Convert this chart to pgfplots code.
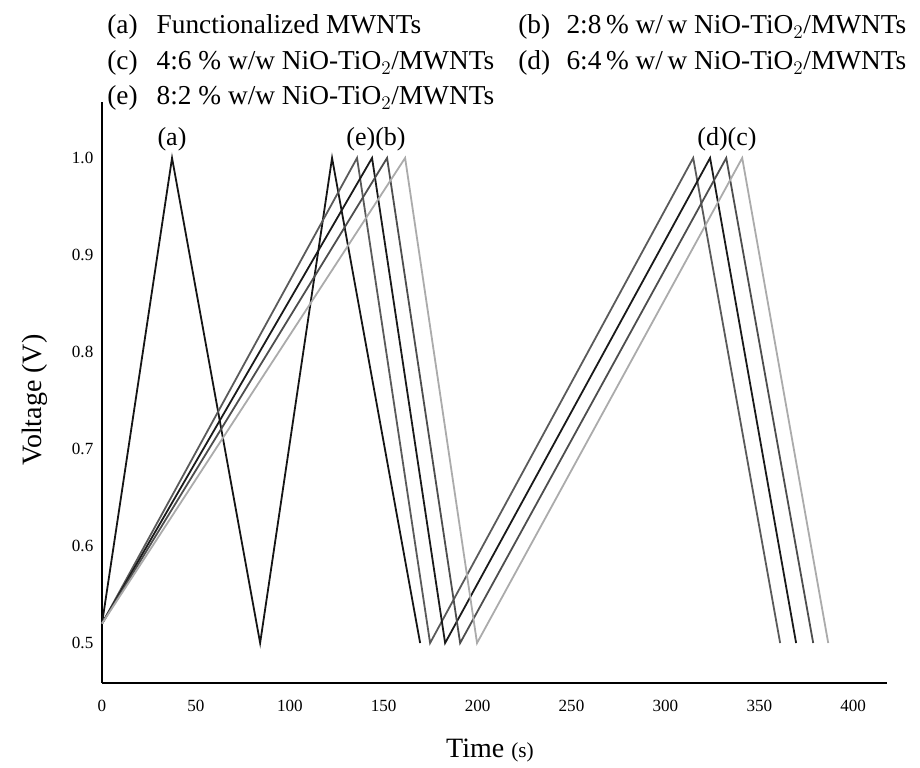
\documentclass[border=0pt]{standalone}
\usepackage{pgfplots}
\pgfplotsset{compat=1.18}
\usepackage{fontspec}
\setmainfont{Liberation Serif}
\definecolor{cA}{HTML}{151515}
\definecolor{cE}{HTML}{5A5A5A}
\definecolor{cD}{HTML}{1A1A1A}
\definecolor{cB}{HTML}{4E4E4E}
\definecolor{cC}{HTML}{ABABAB}
\begin{document}
\begin{tikzpicture}[x=0.75pt,y=0.75pt]
\path[use as bounding box] (0,0) rectangle (920,767);
\begin{axis}[
  at={(102*0.75pt,84*0.75pt)}, anchor=south west,
  scale only axis, width=588.75pt, height=435.75pt,
  xmin=0, xmax=418, ymin=0.4588, ymax=1.0577,
  axis lines=left,
  axis line style={-, line width=1.4pt},
  major tick length=0pt,
  xtick={0,50,...,400}, ytick={0.5,0.6,...,1.0},
  /pgf/number format/assume math mode=true,
  tick label style={font=\fontsize{12.8pt}{14pt}\selectfont},
  yticklabel style={/pgf/number format/fixed, /pgf/number format/fixed zerofill, /pgf/number format/precision=1, xshift=-3pt},
  xticklabel style={yshift=-9pt},
  clip=false,
  every axis plot/.append style={line width=1.35pt, no markers},
]
% (a)
\addplot[color=cA] coordinates {(0,0.52) (37.3,1.0) (84.2,0.5) (122.5,1.0) (169.4,0.5)};
% (e)
\addplot[color=cE] coordinates {(0,0.52) (135.8,1.0) (174.7,0.5) (314.8,1.0) (361.1,0.5)};
% (d)
\addplot[color=cD] coordinates {(0,0.52) (143.8,1.0) (182.7,0.5) (323.8,1.0) (369.6,0.5)};
% (b)
\addplot[color=cB] coordinates {(0,0.52) (151.8,1.0) (190.7,0.5) (332.4,1.0) (378.7,0.5)};
% (c)
\addplot[color=cC] coordinates {(0,0.52) (161.4,1.0) (199.7,0.5) (340.9,1.0) (386.7,0.5)};
\end{axis}
\begin{scope}[every node/.style={font=\fontsize{19.5pt}{22pt}\selectfont, inner sep=0pt}]
\node[anchor=base] at (172,767-146) {(a)};
\node[anchor=base] at (376,767-146) {(e)(b)};
\node[anchor=base] at (727,767-146) {(d)(c)};
\end{scope}
\begin{scope}[every node/.style={font=\fontsize{20.5pt}{24pt}\selectfont, inner sep=0pt, anchor=base west}]
\node at (107,767-34) {(a)\hspace{0.7em}Functionalized MWNTs};
\node at (518,767-34) {(b)\hspace{0.6em}2:8\,\% w/\,w NiO-TiO$_2$/MWNTs};
\node at (107,767-70) {(c)\hspace{0.7em}4:6 \% w/w NiO-TiO$_2$/MWNTs};
\node at (518,767-70) {(d)\hspace{0.6em}6:4\,\% w/\,w NiO-TiO$_2$/MWNTs};
\node at (107,767-105) {(e)\hspace{0.7em}8:2 \% w/w NiO-TiO$_2$/MWNTs};
\end{scope}
\node[rotate=90, font=\fontsize{21pt}{24pt}\selectfont, inner sep=0pt] at (35,767-400) {Voltage (V)};
\node[font=\fontsize{21pt}{24pt}\selectfont, inner sep=0pt, anchor=base] at (490,767-757) {Time {\fontsize{16pt}{18pt}\selectfont (s)}};
\end{tikzpicture}
\end{document}
